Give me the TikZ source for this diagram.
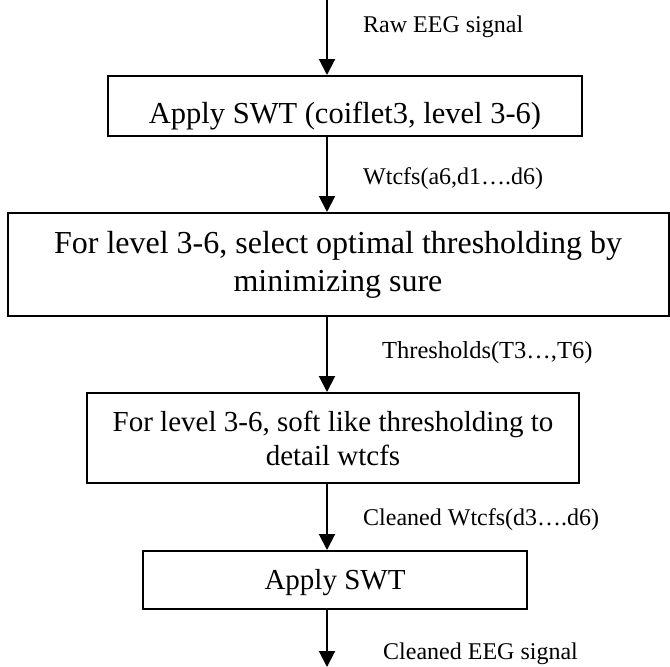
\documentclass[tikz,border=0pt]{standalone}
\usepackage{fontspec}
\setmainfont{Liberation Serif}
\usetikzlibrary{arrows.meta}
\begin{document}
\begin{tikzpicture}[x=1pt,y=-1pt,
  procbox/.style={draw,line width=2pt,inner sep=0pt,align=center,font=\fontsize{30}{37}\selectfont},
  arr/.style={line width=2pt,-{Triangle[length=16pt,width=16pt]}},
  lbl/.style={anchor=west,inner sep=0pt,font=\fontsize{24}{28}\selectfont}]
\useasboundingbox (0,0) rectangle (670,667);
\coordinate (top) at (327,0);
\coordinate (bot) at (327,667);
\node[procbox,minimum width=474pt,minimum height=60pt,font=\fontsize{30.5}{37}\selectfont,text height=34pt,text depth=0pt] (b1) at (345,106) {Apply SWT (coiflet3, level 3-6)};
\node[procbox,minimum width=661pt,minimum height=103pt,font=\fontsize{32}{38}\selectfont] (b2) at (338,264.5) {For level 3-6, select optimal thresholding by\\minimizing sure};
\node[procbox,minimum width=492pt,minimum height=90pt,font=\fontsize{29}{34}\selectfont] (b3) at (333,438) {For level 3-6, soft like thresholding to\\detail wtcfs};
\node[procbox,minimum width=384pt,minimum height=58pt,font=\fontsize{29}{34}\selectfont,text height=20pt,text depth=2pt] (b4) at (335,580) {Apply SWT};
\draw[arr] (top) -- (top |- b1.north);
\draw[arr] (top |- b1.south) -- (top |- b2.north);
\draw[arr] (top |- b2.south) -- (top |- b3.north);
\draw[arr] (top |- b3.south) -- (top |- b4.north);
\draw[arr] (top |- b4.south) -- (bot);
\node[lbl] (l1) at (363,27) {Raw EEG signal};
\node[lbl] (l2) at (363,179) {Wtcfs(a6,d1….d6)};
\node[lbl,font=\fontsize{24.5}{28}\selectfont] (l3) at (382,353) {Thresholds(T3…,T6)};
\node[lbl] (l4) at (363,520) {Cleaned Wtcfs(d3….d6)};
\node[lbl] (l5) at (383,654) {Cleaned EEG signal};
\end{tikzpicture}
\end{document}
